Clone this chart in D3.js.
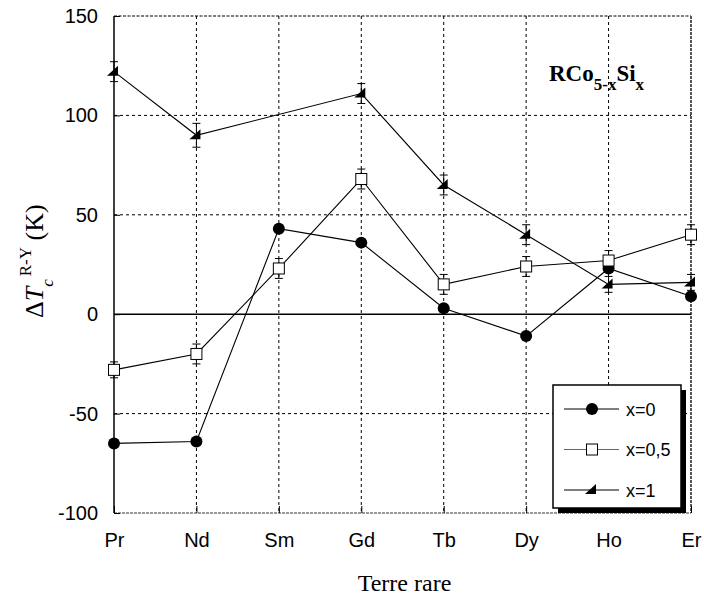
<!DOCTYPE html>
<html><head><meta charset="utf-8">
<script src="https://cdn.jsdelivr.net/npm/d3@7"></script>
<style>body{margin:0;background:#fff}</style>
</head><body>
<svg id="c" width="704" height="599"></svg>
<script>
const categories = ["Pr","Nd","Sm","Gd","Tb","Dy","Ho","Er"];
const yTicks = [-100,-50,0,50,100,150];
const x0Values = [-65,-64,43,36,3,-11,23,9];
const x0Errors = [0,0,0,0,0,0,0,0];
const x05Values = [-28,-20,23,68,15,24,27,40];
const x05Errors = [4,5,5,5,5,5,5,5];
const x1Values = [122,90,null,111,65,40,15,16];
const x1Errors = [5,6,null,5,5,5,4,4];
const seriesNames = ["x=0","x=0,5","x=1"];

const svg = d3.select("#c");
const L=114, R=691, T=16, B=513;
const x = d3.scalePoint().domain(categories).range([L,R]);
const y = d3.scaleLinear().domain([-100,150]).range([B,T]);
const SANS = "Liberation Sans, Arial, sans-serif";
const SERIF = "Liberation Serif, Times New Roman, serif";

// grid
const g = svg.append("g");
g.selectAll(".vg").data(categories.slice(1,-1)).enter().append("line")
  .attr("x1",d=>x(d)).attr("x2",d=>x(d)).attr("y1",T).attr("y2",B)
  .attr("stroke","#000").attr("stroke-width",1).attr("stroke-dasharray","3,3");
g.selectAll(".hg").data([-50,50,100]).enter().append("line")
  .attr("x1",L).attr("x2",R).attr("y1",d=>y(d)).attr("y2",d=>y(d))
  .attr("stroke","#000").attr("stroke-width",1).attr("stroke-dasharray","3,3");
// frame
g.append("line").attr("x1",L).attr("x2",R).attr("y1",T).attr("y2",T).attr("stroke","#000").attr("stroke-dasharray","3,1.5");
g.append("line").attr("x1",L).attr("x2",R).attr("y1",B).attr("y2",B).attr("stroke","#333").attr("stroke-dasharray","3,1");
g.append("line").attr("x1",R).attr("x2",R).attr("y1",T).attr("y2",B).attr("stroke","#555").attr("stroke-width",2).attr("stroke-dasharray","3,1");
g.append("line").attr("x1",L).attr("x2",L).attr("y1",T).attr("y2",B).attr("stroke","#000").attr("stroke-width",1.5);
// zero line
g.append("line").attr("x1",L).attr("x2",R).attr("y1",y(0)).attr("y2",y(0)).attr("stroke","#000").attr("stroke-width",1.5);

// axes
const yAxis = d3.axisLeft(y).tickValues(yTicks).tickSize(-6).tickPadding(16).tickFormat(d=>String(d));
const ya = svg.append("g").attr("transform",`translate(${L},0)`).call(yAxis);
ya.select(".domain").remove();
ya.selectAll("text").attr("font-family",SANS).attr("font-size",20).attr("fill","#000");
ya.selectAll("line").attr("stroke","#000");
const xAxis = d3.axisBottom(x).tickSize(-7).tickPadding(20);
const xa = svg.append("g").attr("transform",`translate(0,${B})`).call(xAxis);
xa.select(".domain").remove();
xa.selectAll("text").attr("font-family",SANS).attr("font-size",20).attr("fill","#000");
xa.selectAll("line").attr("stroke","#000");

// series
const series = [
  {name:seriesNames[0], vals:x0Values, errs:x0Errors, sym:"circle", color:"#000"},
  {name:seriesNames[1], vals:x05Values, errs:x05Errors, sym:"square", color:"#000"},
  {name:seriesNames[2], vals:x1Values, errs:x1Errors, sym:"tri", color:"#000"}
];
function drawMarker(sel, sym){
  if(sym==="circle") sel.append("circle").attr("r",6).attr("fill","#000");
  else if(sym==="square") sel.append("rect").attr("x",-5.5).attr("y",-5.5).attr("width",11).attr("height",11).attr("fill","#fff").attr("stroke","#000").attr("stroke-width",1);
  else sel.append("path").attr("d","M-7,4 L4,-6 L4,4 Z").attr("fill","#000");
}
series.forEach(s=>{
  const pts = categories.map((c,i)=>({c,v:s.vals[i],e:s.errs[i]})).filter(p=>p.v!==null);
  svg.append("path").datum(pts)
    .attr("d",d3.line().x(p=>x(p.c)).y(p=>y(p.v)))
    .attr("fill","none").attr("stroke",s.color).attr("stroke-width",1.1);
  const eg = svg.append("g");
  pts.filter(p=>p.e>0).forEach(p=>{
    const cx=x(p.c);
    eg.append("line").attr("x1",cx).attr("x2",cx).attr("y1",y(p.v+p.e)).attr("y2",y(p.v-p.e)).attr("stroke","#000");
    [p.v+p.e,p.v-p.e].forEach(v=>eg.append("line").attr("x1",cx-4).attr("x2",cx+4).attr("y1",y(v)).attr("y2",y(v)).attr("stroke","#000"));
  });
  pts.forEach(p=>{
    const m = svg.append("g").attr("transform",`translate(${x(p.c)},${y(p.v)})`);
    drawMarker(m,s.sym);
  });
});

// legend
const lg = svg.append("g");
lg.append("rect").attr("x",558).attr("y",390).attr("width",128).attr("height",123).attr("fill","#000");
lg.append("rect").attr("x",553).attr("y",385).attr("width",128).attr("height",123).attr("fill","#fff").attr("stroke","#000").attr("stroke-width",1.5);
series.forEach((s,i)=>{
  const ly = 409 + i*40.5;
  lg.append("line").attr("x1",564).attr("x2",619).attr("y1",ly).attr("y2",ly).attr("stroke",i===1?"#666":"#000").attr("stroke-width",1.1);
  drawMarker(lg.append("g").attr("transform",`translate(592,${ly})`), s.sym);
  lg.append("text").attr("x",626).attr("y",ly+6.5).text(s.name)
    .attr("font-family",SANS).attr("font-size",18);
});

// title
const tt = svg.append("text").attr("x",549).attr("y",81)
  .attr("font-family",SERIF).attr("font-weight","bold").attr("font-size",23);
tt.append("tspan").text("RCo");
tt.append("tspan").attr("dy",9).attr("font-size",17).text("5-x");
tt.append("tspan").attr("dy",-9).text("Si");
tt.append("tspan").attr("dy",9).attr("font-size",17).text("x");

// axis titles
svg.append("text").attr("x",(L+R)/2 + 2).attr("y",591).attr("text-anchor","middle")
  .attr("font-family",SERIF).attr("font-size",24).text("Terre rare");
const yl = svg.append("text").attr("transform","translate(43,318) rotate(-90)").attr("text-anchor","start")
  .attr("font-family",SERIF).attr("font-size",26);
yl.append("tspan").text("Δ");
yl.append("tspan").attr("font-style","italic").text("T");
yl.append("tspan").attr("dy",10).attr("font-style","italic").attr("font-size",17).text("c");
yl.append("tspan").attr("dy",-22).attr("font-size",17).attr("dx",3).text("R-Y");
yl.append("tspan").attr("dy",12).text(" (K)");
</script>
</body></html>
